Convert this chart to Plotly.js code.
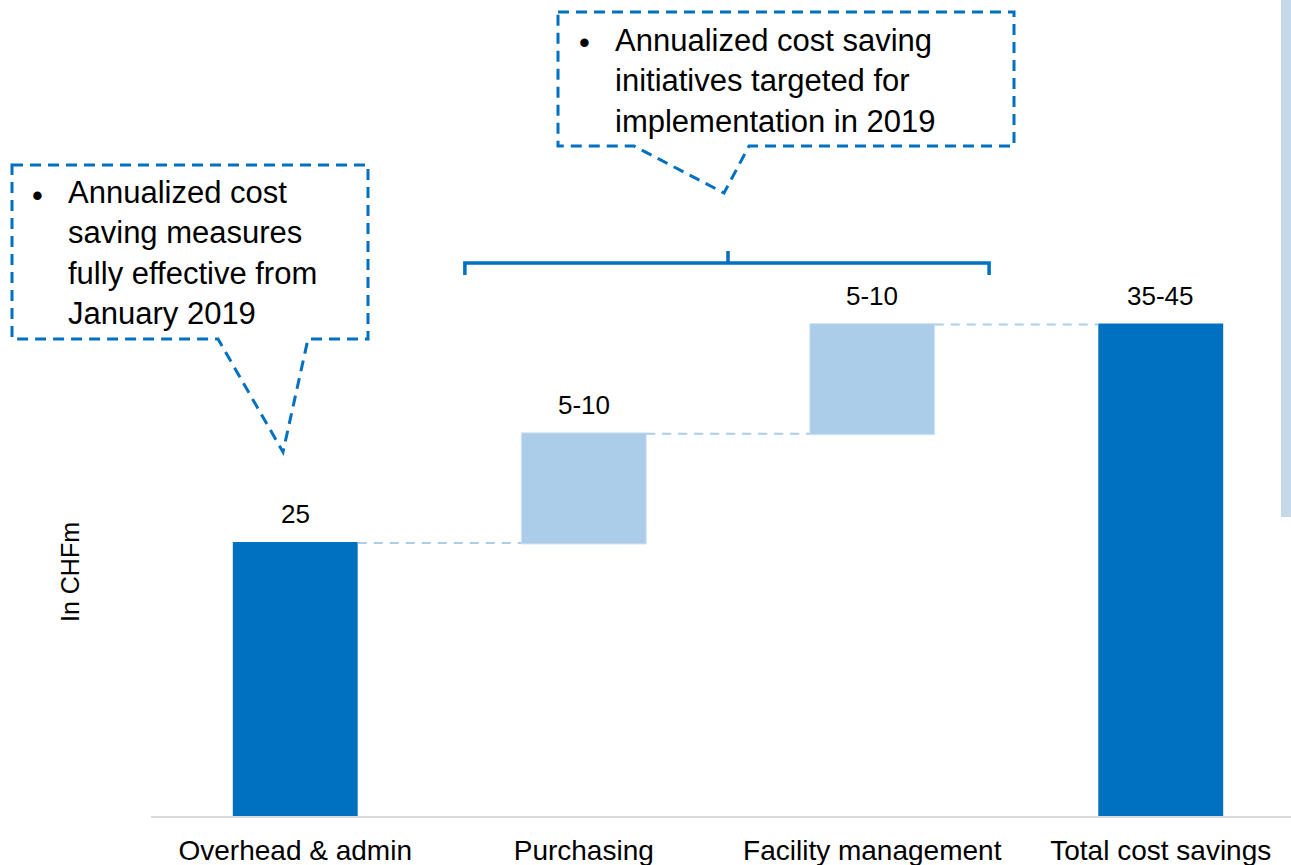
<!DOCTYPE html>
<html>
<head>
<meta charset="utf-8">
<script src="https://cdn.plot.ly/plotly-3.0.1.min.js"></script>
<style>html,body{margin:0;padding:0;background:#fff;}#chart{width:1291px;height:865px;}</style>
</head>
<body>
<div id="chart"></div>
<script>
// ---- data ----
const categories = ["Overhead & admin", "Purchasing", "Facility management", "Total cost savings"];
const measures = ["absolute", "relative", "relative", "total"];
const values = [25, 10, 10, 0];
const valueLabels = ["25", "5-10", "5-10", "35-45"];
const yTitle = "In CHFm";
const note1 = "Annualized cost<br>saving measures<br>fully effective from<br>January 2019";
const note2 = "Annualized cost saving<br>initiatives targeted for<br>implementation in 2019";

// ---- layout helpers (plot area in pixels) ----
const L = 151, W = 1140, H = 816;
const px = x => (x - L) / W;
const py = y => (H - y) / H;
const FONT = "Liberation Sans, Arial, sans-serif";
const BLUE = "#0070c0";
const LIGHT = "#abcde9";

const xs = categories.map((_, i) => i);
// cumulative tops for labels
const tops = [];
let run = 0;
values.forEach((v, i) => {
  if (measures[i] === "absolute") run = v;
  else if (measures[i] === "relative") run += v;
  tops.push(run);
});

const trace = {
  type: "waterfall",
  x: xs,
  y: values,
  measure: measures,
  textposition: "none",
  hoverinfo: "skip",
  totals: { marker: { color: BLUE, line: { width: 0 } } },
  increasing: { marker: { color: LIGHT, line: { color: "#d3e5f4", width: 1 } } },
  decreasing: { marker: { color: LIGHT } },
  connector: { mode: "between", line: { color: LIGHT, width: 2, dash: "9px,7px" } }
};

function boxPath(pts) {
  return "M " + pts.map(p => px(p[0]) + "," + py(p[1])).join(" L ") + " Z";
}

const dashBox = { color: BLUE, width: 3, dash: "11px,7px" };

const bx0 = 1 - 0.412, bx1 = 2 + 0.405, bxc = 1.5;
const shapes = [
  { type: "path", xref: "paper", yref: "paper", line: dashBox, fillcolor: "rgba(0,0,0,0)",
    path: boxPath([[12,165],[368,165],[368,339],[308,339],[283,452],[218,339],[12,339]]) },
  { type: "path", xref: "paper", yref: "paper", line: dashBox, fillcolor: "rgba(0,0,0,0)",
    path: boxPath([[558,12],[1014,12],[1014,146],[749,146],[724,193],[634,146],[558,146]]) },
  { type: "path", xref: "x", yref: "paper", line: { color: BLUE, width: 3.5 },
    path: `M ${bx0},${py(275)} L ${bx0},${py(263)} L ${bx1},${py(263)} L ${bx1},${py(275)} M ${bxc},${py(263)} L ${bxc},${py(251)}` },
  { type: "rect", xref: "paper", yref: "paper", x0: px(1281), x1: px(1291), y0: py(517), y1: 1,
    fillcolor: "#c5d9eb", line: { width: 0 } }
];

const annotations = [];
xs.forEach((x, i) => {
  annotations.push({ x: x, y: tops[i], xref: "x", yref: "y", text: valueLabels[i], showarrow: false,
    xanchor: "center", yanchor: "bottom", yshift: 12, font: { family: FONT, size: 26, color: "#000" } });
});
annotations.push({ xref: "paper", yref: "paper", x: px(70), y: py(572), text: yTitle, textangle: -90,
  xanchor: "center", yanchor: "middle",
  showarrow: false, font: { family: FONT, size: 25, color: "#000" } });
// note 1
annotations.push({ xref: "paper", yref: "paper", x: px(37), y: py(195), text: "•", showarrow: false,
  xanchor: "center", yanchor: "middle", font: { family: FONT, size: 31, color: "#000" } });
annotations.push({ xref: "paper", yref: "paper", x: px(66), y: py(253), text: note1, showarrow: false,
  xanchor: "left", yanchor: "middle", align: "left", font: { family: FONT, size: 31, color: "#000" } });
// note 2
annotations.push({ xref: "paper", yref: "paper", x: px(584), y: py(42), text: "•", showarrow: false,
  xanchor: "center", yanchor: "middle", font: { family: FONT, size: 31, color: "#000" } });
annotations.push({ xref: "paper", yref: "paper", x: px(613), y: py(81), text: note2, showarrow: false,
  xanchor: "left", yanchor: "middle", align: "left", font: { family: FONT, size: 31, color: "#000" } });

const layout = {
  width: 1291, height: 865,
  margin: { l: L, r: 0, t: 0, b: 865 - H },
  paper_bgcolor: "#fff", plot_bgcolor: "#fff",
  showlegend: false,
  waterfallgap: 0.567,
  font: { family: FONT, color: "#000" },
  xaxis: {
    tickvals: xs, ticktext: categories,
    range: [-0.5, -0.5 + W / 288.5],
    showline: true, linecolor: "#d9d9d9", linewidth: 2,
    showgrid: false, zeroline: false, ticks: "",
    ticklabelstandoff: 8,
    tickfont: { family: FONT, size: 28, color: "#000" },
    fixedrange: true
  },
  yaxis: {
    range: [0, H / 10.92],
    showgrid: false, zeroline: false, showticklabels: false, ticks: "", showline: false,
    fixedrange: true
  },
  shapes: shapes,
  annotations: annotations
};

Plotly.newPlot("chart", [trace], layout, { displayModeBar: false, staticPlot: true });
</script>
</body>
</html>
